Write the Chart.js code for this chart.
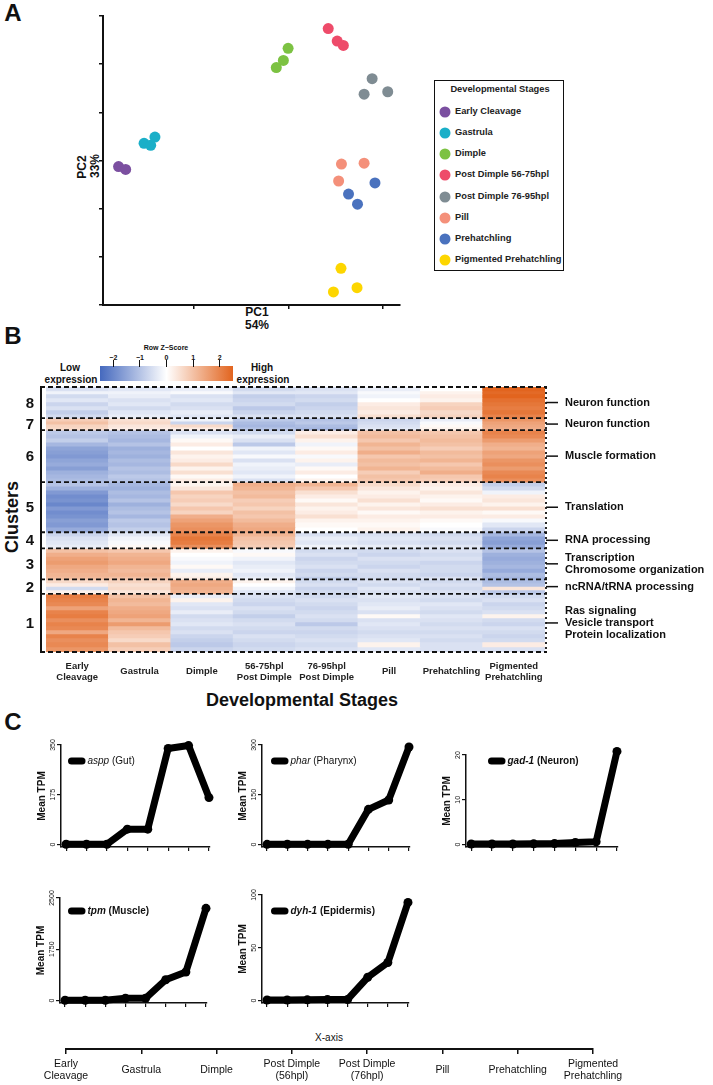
<!DOCTYPE html>
<html lang="en">
<head>
  <meta charset="UTF-8" />
  <title>Developmental stages - PCA, clusters and marker genes</title>
  <meta name="viewport" content="width=device-width, initial-scale=1.0" />
  <script src="https://cdn.jsdelivr.net/npm/chart.js"></script>
  <style>
    body {
      margin: 0;
      background: #fff;
      font-family: 'Liberation Sans', Arial, sans-serif;
      color: #111;
    }
    #figura { position: relative; width: 713px; height: 1085px; overflow: hidden; }
    #figura canvas { position: absolute; }
    .t {
      position: absolute;
      white-space: nowrap;
      line-height: 1;
      font-weight: 700;
      transform: translate(-50%, -50%);
    }
    .v { transform: translate(-50%, -50%) rotate(-90deg); }
    .panel { font-size: 24px; }
    .leyenda {
      position: absolute;
      left: 434px; top: 80px;
      width: 128px; height: 189px;
      border: 1.5px solid #111;
    }
    .leyenda .punto { position: absolute; width: 11px; height: 11px; border-radius: 50%; transform: translate(-50%, -50%); }
    .leyenda .item { position: absolute; font-size: 9.3px; font-weight: 700; line-height: 1; transform: translateY(-50%); white-space: nowrap; color: #222; }
    .escala {
      position: absolute;
      left: 100px; top: 366px; width: 133px; height: 15px;
      background: linear-gradient(to right, rgb(69,105,190), #fff 50%, rgb(226,100,30));
    }
    .marca { position: absolute; width: 1px; height: 7px; background: #111; top: 360px; }
  </style>
</head>
<body>
<div id="figura">
  <div class="t panel" style="left:13px; top:13px">A</div>
  <div class="t panel" style="left:13px; top:336px">B</div>
  <div class="t panel" style="left:13px; top:722px">C</div>

  <div class="t" style="left:257px; top:312px; font-size:12px">PC1</div>
  <div class="t" style="left:257px; top:325px; font-size:12px">54%</div>
  <div class="t v" style="left:82px; top:167px; font-size:12px">PC2</div>
  <div class="t v" style="left:95px; top:166px; font-size:12px">33%</div>
  <div class="leyenda" id="leyenda"></div>

  <div class="t" style="left:166px; top:347px; font-size:7px">Row Z−Score</div>
  <div class="escala"></div>
  <div id="marcasEscala"></div>
  <div class="t" style="left:70px; top:368px; font-size:10px">Low</div>
  <div class="t" style="left:71px; top:380px; font-size:10px">expression</div>
  <div class="t" style="left:262px; top:368px; font-size:10px">High</div>
  <div class="t" style="left:263px; top:380px; font-size:10px">expression</div>
  <div class="t v" style="left:12px; top:517px; font-size:18px">Clusters</div>
  <div class="t" style="left:302px; top:700px; font-size:18px">Developmental Stages</div>

  <div class="t" style="left:329px; top:1038px; font-size:10px; font-weight:400">X-axis</div>
</div>

<script>
  // ---- Panel A: PCA ----
  const stages = ['Early Cleavage', 'Gastrula', 'Dimple', 'Post Dimple 56-75hpl',
                  'Post Dimple 76-95hpl', 'Pill', 'Prehatchling', 'Pigmented Prehatchling'];
  const stageColors = ['#7b4fa0', '#1aafc8', '#7cc242', '#ee4b6a', '#7f8c93', '#f4907a', '#4a72be', '#fdd600'];
  const pc1 = [
    [-36.0, -34.5],
    [-30.6, -29.2, -28.3],
    [-2.6, -1.1, -0.1],
    [8.4, 10.3, 11.6],
    [17.7, 16.0, 21.0],
    [11.2, 16.0, 10.6],
    [18.3, 12.7, 14.6],
    [11.1, 9.5, 14.5]
  ];
  const pc2 = [
    [5.0, 4.4],
    [9.8, 9.4, 11.1],
    [25.5, 27.0, 29.5],
    [33.6, 31.0, 30.1],
    [23.2, 20.0, 20.5],
    [5.5, 5.7, 2.0],
    [1.6, -0.7, -2.8],
    [-16.1, -21.0, -20.1]
  ];

  // ---- Panel B: heatmap (rows of z-scores, top to bottom, one value per stage) ----
  const heatLabels = [['Early', 'Cleavage'], 'Gastrula', 'Dimple', ['56-75hpl', 'Post Dimple'],
                      ['76-95hpl', 'Post Dimple'], 'Pill', 'Prehatchling', ['Pigmented', 'Prehatchling']];
  const clusterIds = [8, 7, 6, 5, 4, 3, 2, 1];
  const clusterTerms = [
    ['Neuron function'],
    ['Neuron function'],
    ['Muscle formation'],
    ['Translation'],
    ['RNA processing'],
    ['Transcription', 'Chromosome organization'],
    ['ncRNA/tRNA processing'],
    ['Ras signaling', 'Vesicle transport', 'Protein localization']
  ];
  const genes8 = [4, 3, 4, 4, 4, 4, 4, 4];
  const z8 = [
    [-0.5, -0.4, -0.3, -0.6, -0.5, -0.3, 0.0, 2.5],
    [-0.2, -0.2, -0.1, -0.4, -0.4, -0.1, 0.2, 2.4],
    [-0.6, -0.3, -0.5, -0.8, -0.7, -0.2, 0.3, 2.5],
    [-0.4, -0.5, -0.4, -0.7, -0.6, 0.0, 0.2, 2.3],
    [-0.7, -0.4, -0.6, -0.6, -0.8, 0.3, 0.7, 2.2],
    [-0.5, -0.6, -0.5, -0.9, -0.7, 0.4, 0.8, 2.1],
    [-0.8, -0.4, -0.3, -0.7, -0.6, 0.3, 0.6, 2.2],
    [-0.6, -0.3, -0.4, -0.5, -0.5, 0.5, 0.7, 2.0]
  ];
  const genes7 = [3, 3, 3, 3];
  const z7 = [
    [0.8, 0.5, -0.2, -0.9, -1.0, -0.7, -0.3, 1.7],
    [1.0, 0.6, -0.7, -1.1, -0.9, -0.6, -0.1, 1.5],
    [0.7, 0.4, 0.6, -1.2, -1.1, -0.5, 0.1, 1.4],
    [0.6, 0.3, 0.3, -1.0, -1.2, -0.4, 0.2, 1.3]
  ];
  const genes6 = [4, 4, 4, 4, 4, 4, 4, 4, 4, 4, 4, 4, 4];
  const z6 = [
    [-0.9, -1.0, -0.5, -0.6, 0.3, 1.0, 0.9, 2.0],
    [-1.0, -1.1, -0.2, -0.3, 0.5, 1.1, 1.0, 1.9],
    [-0.8, -1.2, 0.1, -0.5, 0.2, 0.9, 1.1, 1.6],
    [-1.2, -1.0, 0.3, -0.9, -0.2, 1.2, 1.0, 1.3],
    [-1.5, -1.3, 0.0, -0.2, 0.1, 1.0, 0.8, 1.2],
    [-1.6, -1.2, 0.4, -0.4, 0.3, 1.3, 1.1, 1.5],
    [-1.7, -1.3, 0.2, -0.1, -0.1, 0.9, 1.0, 1.4],
    [-1.5, -1.1, 0.3, -0.5, 0.2, 1.1, 1.2, 1.7],
    [-1.4, -1.2, 0.6, -0.2, -0.3, 1.0, 0.9, 1.8],
    [-1.6, -1.0, 0.2, -0.3, 0.1, 1.2, 1.1, 1.6],
    [-1.3, -1.1, 0.5, -0.4, 0.3, 0.8, 1.3, 1.9],
    [-1.2, -0.9, 0.1, -0.2, 0.0, 1.0, 0.9, 2.0],
    [-1.1, -1.0, 0.3, -0.5, 0.2, 0.9, 0.8, 1.8]
  ];
  const genes5 = [4, 4, 4, 4, 4, 4, 4, 4, 4, 4, 5, 5];
  const z5 = [
    [-1.0, -1.2, 0.2, 1.3, 1.2, 0.6, 0.3, -0.8],
    [-1.3, -1.3, 0.4, 1.2, 0.9, 0.4, 0.2, -0.6],
    [-1.7, -1.1, 0.9, 1.0, 0.5, 0.2, 0.4, -0.2],
    [-1.9, -1.2, 0.7, 1.1, 0.3, 0.3, 0.2, 0.3],
    [-1.8, -1.0, 0.8, 0.8, 0.1, 0.5, 0.1, 0.4],
    [-2.0, -1.3, 0.6, 0.9, 0.4, 0.2, 0.3, 0.2],
    [-1.7, -1.1, 0.9, 0.7, 0.2, 0.4, 0.5, 0.5],
    [-1.9, -1.0, 0.7, 1.0, 0.3, 0.1, 0.2, 0.1],
    [-1.8, -1.2, 1.3, 0.9, 0.5, 0.3, 0.3, 0.3],
    [-1.6, -0.9, 1.5, 1.1, 0.2, 0.2, 0.1, -0.1],
    [-1.7, -1.0, 1.7, 1.3, 0.1, 0.1, 0.0, -0.4],
    [-1.4, -0.8, 1.8, 1.4, 0.0, 0.2, -0.1, -0.7]
  ];
  const genes4 = [4, 4, 4, 4];
  const z4 = [
    [-0.7, -0.4, 2.0, 1.2, -0.5, -0.5, -0.6, -1.2],
    [-0.5, -0.2, 2.2, 1.0, -0.3, -0.4, -0.5, -1.5],
    [-0.4, -0.1, 2.1, 0.9, -0.4, -0.5, -0.6, -1.6],
    [-0.3, 0.1, 1.8, 0.8, -0.2, -0.3, -0.4, -1.4]
  ];
  const genes3 = [4, 4, 4, 4, 4, 4, 4, 3];
  const z3 = [
    [1.0, 0.9, 0.2, -0.1, -0.6, -0.6, -0.5, -1.0],
    [1.3, 1.2, 0.0, 0.1, -0.5, -0.7, -0.6, -1.3],
    [1.5, 1.3, -0.1, -0.2, -0.7, -0.5, -0.5, -1.4],
    [1.6, 1.4, -0.2, -0.4, -0.6, -0.6, -0.7, -1.3],
    [1.4, 1.2, 0.1, -0.3, -0.5, -0.7, -0.6, -1.2],
    [1.3, 1.1, -0.3, -0.2, -0.7, -0.5, -0.6, -1.4],
    [1.2, 1.2, 0.2, -0.4, -0.6, -0.6, -0.7, -1.1],
    [1.1, 1.0, 0.3, -0.3, -0.8, -0.6, -0.5, -1.2]
  ];
  const genes2 = [3.5, 3.5, 3.5, 4];
  const z2 = [
    [0.6, 0.7, 1.3, 0.2, -0.6, -0.5, -0.6, -1.1],
    [0.3, 0.5, 1.4, 0.0, -0.5, -0.6, -0.5, -1.0],
    [-0.6, 0.6, 1.3, -0.2, -0.7, -0.4, -0.6, 0.4],
    [0.2, 0.4, 1.2, -0.4, -0.6, -0.5, -0.5, -0.9]
  ];
  const genes1 = [4, 4, 4, 4, 4, 4, 4, 4, 4, 4, 4, 4, 5, 5];
  const z1 = [
    [2.1, 1.0, -0.3, -0.5, -0.6, -0.4, -0.5, -0.6],
    [2.0, 1.2, 0.2, -0.6, -0.5, -0.5, -0.6, -0.5],
    [1.9, 1.1, -0.4, -0.7, -0.6, -0.4, -0.4, -0.7],
    [1.5, 1.3, -0.5, -0.5, -0.7, -0.3, -0.5, -0.6],
    [2.0, 1.4, -0.3, -0.6, -0.6, -0.5, -0.6, -0.5],
    [2.1, 1.5, -0.6, -0.8, -0.5, 0.1, -0.4, 0.2],
    [1.8, 1.2, -0.5, -0.6, -0.6, -0.5, -0.5, -0.6],
    [2.0, 1.6, -0.4, -0.5, -0.9, -0.4, -0.6, -0.7],
    [1.9, 1.1, -0.6, -0.6, -0.6, -0.5, -0.5, -0.5],
    [1.4, 0.9, -0.5, -0.7, -0.7, -0.6, -0.6, -0.6],
    [2.0, 0.8, -0.7, -0.5, -0.6, -0.5, -0.5, -0.7],
    [1.8, 0.6, -0.8, -0.6, -0.5, -0.4, -0.6, -0.6],
    [1.9, 1.0, -0.9, -0.7, -0.6, 0.2, -0.5, 0.3],
    [1.7, 0.8, -0.7, -0.6, -0.5, -0.4, -0.5, -0.5]
  ];
  const keyTicks = [-2, -1, 0, 1, 2];

  // ---- Panel C: marker genes (mean TPM per stage) ----
  const markerGenes = ['aspp', 'phar', 'gad-1', 'tpm', 'dyh-1'];
  const markerTissues = ['(Gut)', '(Pharynx)', '(Neuron)', '(Muscle)', '(Epidermis)'];
  const asppTPM = [1, 1, 1, 54, 54, 338, 348, 165];
  const pharTPM = [0.5, 0.6, 0.4, 0.5, 0.8, 106, 134, 294];
  const gad1TPM = [0.1, 0.1, 0.1, 0.15, 0.2, 0.45, 0.6, 20.8];
  const tpmTPM = [5, 5, 5, 56, 56, 507, 694, 2248];
  const dyh1TPM = [0.5, 0.5, 0.6, 1, 1, 22, 36, 93];
  const asppTicks = [0, 175, 350];
  const pharTicks = [0, 150, 300];
  const gad1Ticks = [0, 10, 20];
  const tpmTicks = [0, 1250, 2500];
  const dyh1Ticks = [0, 50, 100];
  const tpmTickText = ['0', '1750', '2500'];
  const stageAxisLabels = [['Early', 'Cleavage'], 'Gastrula', 'Dimple', ['Post Dimple', '(56hpl)'],
                           ['Post Dimple', '(76hpl)'], 'Pill', 'Prehatchling', ['Pigmented', 'Prehatchling']];

  Chart.defaults.font.family = "'Liberation Sans', Arial, sans-serif";
  Chart.defaults.color = '#111';

  const figura = document.getElementById('figura');
  function lienzo(left, top, w, h) {
    const c = document.createElement('canvas');
    c.width = w; c.height = h;
    c.style.left = left + 'px'; c.style.top = top + 'px';
    c.style.width = w + 'px'; c.style.height = h + 'px';
    figura.appendChild(c);
    return c;
  }

  // legend of panel A
  const leyenda = document.getElementById('leyenda');
  leyenda.innerHTML = '<div class="t" style="left:65px; top:9px; font-size:9.3px; color:#222">Developmental Stages</div>';
  stages.forEach((s, i) => {
    const y = 30.7 + i * 21.23;
    leyenda.innerHTML += `<div class="punto" style="left:10px; top:${y}px; background:${stageColors[i]}"></div>` +
                         `<div class="item" style="left:20px; top:${y}px">${s}</div>`;
  });

  const ejeNegro = { color: '#111', width: 2 };

  new Chart(lienzo(60, 0, 360, 340), {
    type: 'scatter',
    data: {
      datasets: stages.map((s, i) => ({
        label: s,
        data: pc1[i].map((x, j) => ({ x, y: pc2[i][j] })),
        backgroundColor: stageColors[i],
        borderWidth: 0,
        pointRadius: 5.5,
        pointHoverRadius: 5.5
      }))
    },
    options: {
      responsive: false,
      animation: false,
      layout: { padding: { top: 16, right: 20, left: 0, bottom: 0 } },
      plugins: { legend: { display: false }, tooltip: { enabled: false } },
      scales: {
        x: {
          type: 'linear', min: -39.3, max: 23.6,
          ticks: { display: false, stepSize: 20, includeBounds: false },
          grid: { drawOnChartArea: false, tickLength: 4, color: '#111', lineWidth: 1.5 },
          border: ejeNegro,
          afterFit(s) { s.height = 35; }
        },
        y: {
          type: 'linear', min: -23.7, max: 36.2,
          ticks: { display: false, stepSize: 10, includeBounds: false },
          grid: { drawOnChartArea: false, tickLength: 4, color: '#111', lineWidth: 1.5 },
          border: ejeNegro,
          afterFit(s) { s.width = 43; }
        }
      }
    }
  });

  // ---- heatmap ----
  const zLow = [69, 105, 190], zHigh = [226, 100, 30];
  function zColor(z) {
    const t = Math.max(-1, Math.min(1, z / 2.5));
    const end = t < 0 ? zLow : zHigh;
    const a = Math.abs(t);
    return 'rgb(' + end.map(c => Math.round(255 + (c - 255) * a)).join(',') + ')';
  }

  const clusterZ = [z8, z7, z6, z5, z4, z3, z2, z1];
  const clusterGenes = [genes8, genes7, genes6, genes5, genes4, genes3, genes2, genes1];
  const bands = [];
  const clusterEdges = [0];
  clusterZ.forEach((rows, c) => {
    rows.forEach((row, r) => bands.push({ n: clusterGenes[c][r], z: row }));
    clusterEdges.push(clusterEdges[clusterEdges.length - 1] + clusterGenes[c].reduce((a, b) => a + b, 0));
  });
  const totalGenes = clusterEdges[clusterEdges.length - 1];

  const marcas = document.getElementById('marcasEscala');
  keyTicks.forEach(v => {
    const x = 100 + (v + 2.5) / 5 * 133;
    marcas.innerHTML += `<div class="marca" style="left:${x - 0.5}px"></div>` +
      `<div class="t" style="left:${x}px; top:356.5px; font-size:7px">${v < 0 ? '−' + (-v) : v}</div>`;
  });

  const heatDecor = {
    id: 'heatDecor',
    afterDatasetsDraw(chart) {
      const { ctx, chartArea: a, scales: { y } } = chart;
      const top = y.getPixelForValue(0), bottom = y.getPixelForValue(totalGenes);
      ctx.save();
      ctx.strokeStyle = '#111';
      ctx.fillStyle = '#111';
      ctx.lineWidth = 2;
      ctx.beginPath(); ctx.moveTo(a.left - 5, top); ctx.lineTo(a.left - 5, bottom); ctx.stroke();
      ctx.setLineDash([2, 3]);
      ctx.lineWidth = 1.8;
      ctx.beginPath(); ctx.moveTo(a.right + 1, top); ctx.lineTo(a.right + 1, bottom); ctx.stroke();
      ctx.setLineDash([5, 3]);
      ctx.lineWidth = 1.8;
      clusterEdges.forEach(v => {
        const py = y.getPixelForValue(v);
        ctx.beginPath(); ctx.moveTo(a.left - 6, py); ctx.lineTo(a.right + 2, py); ctx.stroke();
      });
      ctx.setLineDash([]);
      clusterIds.forEach((id, i) => {
        const cy = y.getPixelForValue((clusterEdges[i] + clusterEdges[i + 1]) / 2);
        ctx.font = "bold 15px 'Liberation Sans'";
        ctx.textAlign = 'center';
        ctx.textBaseline = 'middle';
        ctx.fillText(String(id), a.left - 16, cy + 1);
        ctx.lineWidth = 1.5;
        ctx.beginPath(); ctx.moveTo(a.right + 1, cy); ctx.lineTo(a.right + 13, cy); ctx.stroke();
        ctx.font = "bold 11px 'Liberation Sans'";
        ctx.textAlign = 'left';
        const terms = clusterTerms[i];
        terms.forEach((t, k) => ctx.fillText(t, a.right + 20, cy + (k - (terms.length - 1) / 2) * 12));
      });
      ctx.restore();
    }
  };

  new Chart(lienzo(0, 340, 713, 350), {
    type: 'bar',
    data: {
      labels: heatLabels,
      datasets: bands.map(b => ({
        data: heatLabels.map(() => b.n),
        backgroundColor: b.z.map(zColor),
        borderWidth: 0,
        barPercentage: 1,
        categoryPercentage: 1
      }))
    },
    options: {
      responsive: false,
      animation: false,
      layout: { padding: { left: 46, right: 168, top: 47, bottom: 0 } },
      plugins: { legend: { display: false }, tooltip: { enabled: false } },
      scales: {
        x: {
          stacked: true,
          grid: { display: false },
          border: { display: false },
          ticks: { font: { size: 9.5, weight: 'bold' }, color: '#222', padding: 6, crossAlign: 'center', maxRotation: 0, autoSkip: false },
          afterFit(s) { s.height = 38; }
        },
        y: { stacked: true, display: false, min: 0, max: totalGenes, reverse: true }
      }
    },
    plugins: [heatDecor]
  });

  // ---- Panel C: small line charts ----
  const markerValues = [asppTPM, pharTPM, gad1TPM, tpmTPM, dyh1TPM];
  const markerTicks = [asppTicks, pharTicks, gad1Ticks, tpmTicks, dyh1Ticks];
  const markerTickText = [asppTicks.map(String), pharTicks.map(String), gad1Ticks.map(String), tpmTickText, dyh1Ticks.map(String)];
  const caja = [
    { axisX: 61, top: 745, bottom: 847, right: 210, legX: 7, legY: 16, bold: false },
    { axisX: 262, top: 745, bottom: 847, right: 410, legX: 9, legY: 16, bold: false },
    { axisX: 466, top: 755, bottom: 847, right: 618, legX: 22, legY: 6, bold: true },
    { axisX: 60, top: 898, bottom: 1003, right: 207, legX: 8, legY: 13, bold: true },
    { axisX: 262, top: 895, bottom: 1003, right: 409, legX: 9, legY: 16, bold: true }
  ];

  function decor(i) {
    const b = caja[i];
    return {
      id: 'decor' + i,
      afterDraw(chart) {
        const { ctx, chartArea: a, scales: { y } } = chart;
        ctx.save();
        ctx.fillStyle = '#111';
        ctx.textAlign = 'center';
        ctx.textBaseline = 'middle';
        ctx.font = "7px 'Liberation Sans'";
        markerTicks[i].forEach((v, k) => {
          ctx.save();
          ctx.translate(a.left - 8, y.getPixelForValue(v));
          ctx.rotate(-Math.PI / 2);
          ctx.fillText(markerTickText[i][k], 0, 0);
          ctx.restore();
        });
        ctx.font = "bold 10px 'Liberation Sans'";
        ctx.save();
        ctx.translate(a.left - 19, (a.top + a.bottom) / 2);
        ctx.rotate(-Math.PI / 2);
        ctx.fillText('Mean TPM', 0, 0);
        ctx.restore();
        // legend sample
        const lx = a.left + b.legX, ly = a.top + b.legY;
        ctx.strokeStyle = '#000';
        ctx.lineWidth = 7;
        ctx.lineCap = 'round';
        ctx.beginPath(); ctx.moveTo(lx + 3.5, ly); ctx.lineTo(lx + 14, ly); ctx.stroke();
        const w = b.bold ? 'bold ' : '';
        ctx.textAlign = 'left';
        ctx.font = `italic ${w}10px 'Liberation Sans'`;
        ctx.fillText(markerGenes[i], lx + 19.5, ly + 0.5);
        const gw = ctx.measureText(markerGenes[i] + ' ').width;
        ctx.font = `${w}10px 'Liberation Sans'`;
        ctx.fillText(markerTissues[i], lx + 19.5 + gw, ly + 0.5);
        ctx.restore();
      }
    };
  }

  caja.forEach((b, i) => {
    const ticks = markerTicks[i];
    const yMax = ticks[ticks.length - 1];
    const yMin = -yMax * 2.5 / (b.bottom - b.top - 2.5);
    new Chart(lienzo(b.axisX - 30, b.top - 10, b.right - b.axisX + 40, b.bottom - b.top + 18), {
      type: 'line',
      data: {
        datasets: [{
          data: markerValues[i].map((v, k) => ({ x: k, y: v })),
          borderColor: '#000',
          backgroundColor: '#000',
          borderWidth: 7,
          borderJoinStyle: 'round',
          borderCapStyle: 'round',
          pointRadius: 4.5,
          pointBorderWidth: 0,
          tension: 0,
          clip: false
        }]
      },
      options: {
        responsive: false,
        animation: false,
        layout: { padding: { top: 10, right: 10, left: 0, bottom: 0 } },
        plugins: { legend: { display: false }, tooltip: { enabled: false } },
        scales: {
          x: {
            type: 'linear', min: -0.25, max: 7.05,
            ticks: { display: false, stepSize: 1, includeBounds: false },
            grid: { drawOnChartArea: false, tickLength: 4, color: '#111', lineWidth: 1.2 },
            border: { color: '#111', width: 1.5 },
            afterFit(s) { s.height = 8; }
          },
          y: {
            type: 'linear', min: yMin, max: yMax,
            afterBuildTicks(s) { s.ticks = ticks.map(v => ({ value: v })); },
            ticks: { display: false },
            grid: { drawOnChartArea: false, tickLength: 4, color: '#111', lineWidth: 1.2 },
            border: { color: '#111', width: 1.5 },
            afterFit(s) { s.width = 30; }
          }
        }
      },
      plugins: [decor(i)]
    });
  });

  // shared stage axis at the bottom
  new Chart(lienzo(0, 1030, 713, 55), {
    type: 'line',
    data: { labels: stageAxisLabels, datasets: [{ data: [] }] },
    options: {
      responsive: false,
      animation: false,
      layout: { padding: { left: 66, right: 120, top: 0, bottom: 0 } },
      plugins: { legend: { display: false }, tooltip: { enabled: false } },
      scales: {
        x: {
          type: 'category', offset: false,
          grid: { drawOnChartArea: false, tickLength: 5, color: '#111', lineWidth: 1.5 },
          border: { color: '#111', width: 2 },
          ticks: { font: { size: 10.5 }, color: '#111', padding: 10, crossAlign: 'center', maxRotation: 0, autoSkip: false },
          afterFit(s) { s.height = 36; }
        },
        y: { display: false }
      }
    }
  });
</script>
</body>
</html>
